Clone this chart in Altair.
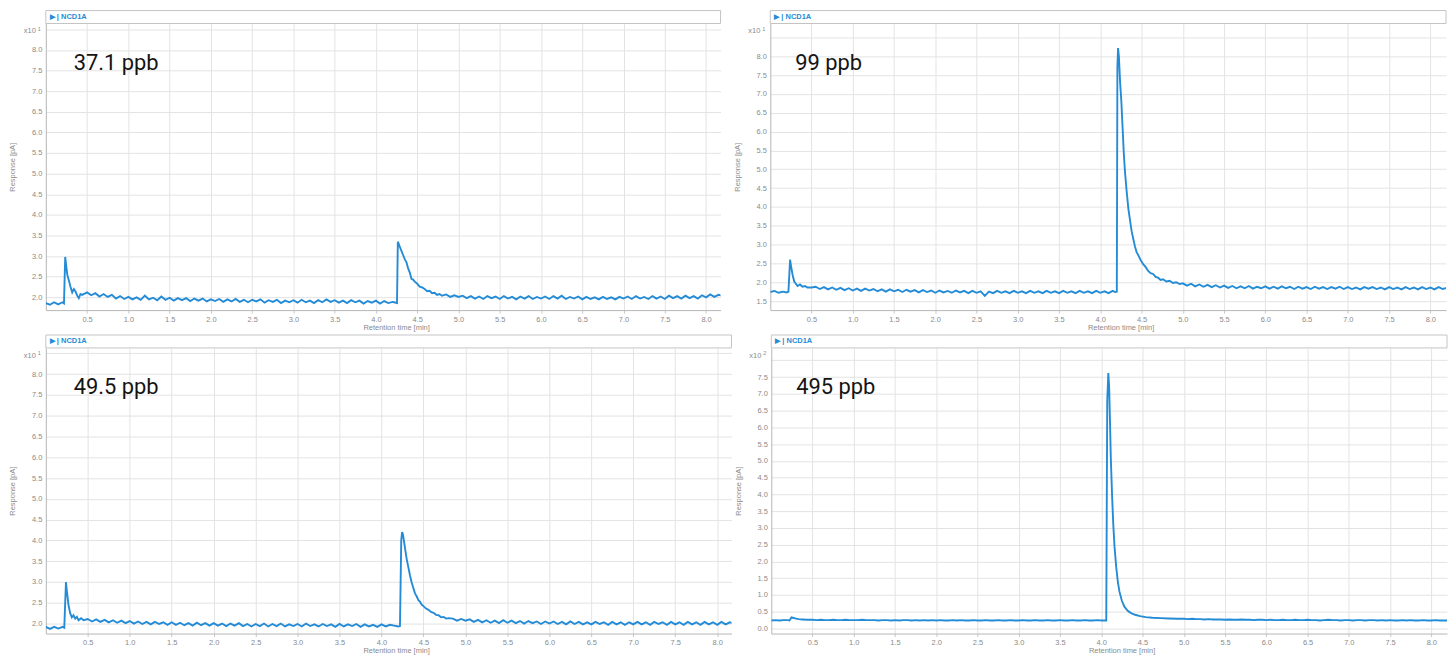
import altair as alt
import pandas as pd

BLUE = "#248bd6"
GRID_T = [round(i * 0.05, 2) for i in range(165)]
X_TICKS = [round(0.5 * i, 1) for i in range(1, 17)]
N = None

# ---- 37.1 ppb (x10^1 pA) ----
tl_grid = [
    1.86, 1.82, 1.88, 1.83, 1.88, N, N, N, N, N,
    2.12, 2.05, 2.10, 2.02, 2.08, 2.01, 2.06, 1.97, 2.03, 1.96,
    2.01, 1.95, 2.00, 1.94, 2.04, 1.95, 1.99, 1.93, 2.02, 1.94,
    1.99, 1.92, 1.98, 1.93, 1.98, 1.91, 1.97, 1.92, 1.97, 1.90,
    1.95, 1.91, 1.96, 1.89, 1.95, 1.90, 1.96, 1.89, 1.94, 1.88,
    1.94, 1.90, 1.95, 1.87, 1.93, 1.89, 1.94, 1.86, 1.92, 1.88,
    1.93, 1.87, 1.94, 1.88, 1.92, 1.86, 1.93, 1.88, 1.95, 1.89,
    1.93, 1.87, 1.92, 1.86, 1.93, 1.88, 1.92, 1.85, 1.91, 1.87,
    1.92, 1.85, 1.91, 1.86, 1.89, N, N, N, N, N,
    N, N, N, N, N, N, N, 2.07, 2.01, 2.05,
    2.01, 2.04, 1.98, 2.03, 1.97, 2.02, 1.96, 2.03, 1.98, 2.02,
    1.96, 2.03, 1.97, 2.01, 1.95, 2.02, 1.97, 2.03, 1.96, 2.01,
    1.97, 2.02, 1.96, 2.03, 1.97, 2.04, 1.96, 2.01, 1.97, 2.02,
    1.95, 2.01, 1.96, 2.00, 1.95, 2.01, 1.96, 2.00, 1.95, 2.01,
    1.97, 2.02, 1.96, 2.03, 1.97, 2.01, 1.96, 2.03, 1.97, 2.02,
    1.96, 2.04, 1.98, 2.03, 1.97, 2.04, 1.98, 2.03, 1.97, 2.05,
    2.00, 2.07, 2.01, 2.06, 2.03,
]
tl_peaks = [
    [0.22, 1.85], [0.235, 2.98], [0.245, 2.80], [0.26, 2.55], [0.28, 2.40],
    [0.30, 2.25], [0.32, 2.12], [0.34, 2.20], [0.36, 2.14], [0.38, 2.04],
    [0.40, 1.98], [0.42, 2.08], [0.44, 2.06],
    [4.22, 1.88], [4.255, 1.86], [4.265, 3.35], [4.275, 3.30], [4.29, 3.22],
    [4.31, 3.12], [4.33, 3.02], [4.35, 2.92], [4.37, 2.85], [4.39, 2.70],
    [4.41, 2.60], [4.43, 2.45], [4.45, 2.43], [4.47, 2.38], [4.50, 2.33],
    [4.53, 2.26], [4.56, 2.24], [4.59, 2.20], [4.62, 2.15], [4.65, 2.16],
    [4.68, 2.10], [4.71, 2.11], [4.74, 2.06], [4.77, 2.08], [4.80, 2.04],
]

# ---- 99 ppb (x10^1 pA) ----
tr_grid = [
    1.74, 1.77, 1.72, 1.75, 1.73, N, N, N, N, N,
    1.86, 1.88, 1.82, 1.87, 1.81, 1.86, 1.80, 1.85, 1.79, 1.84,
    1.78, 1.83, 1.77, 1.83, 1.78, 1.82, 1.76, 1.81, 1.75, 1.81,
    1.76, 1.80, 1.74, 1.80, 1.75, 1.79, 1.73, 1.79, 1.74, 1.78,
    1.72, 1.78, 1.73, 1.77, 1.72, 1.78, 1.73, 1.77, 1.71, 1.77,
    1.72, 1.76, 1.64, 1.75, 1.71, 1.77, 1.72, 1.76, 1.71, 1.77,
    1.72, 1.76, 1.71, 1.77, 1.72, 1.76, 1.71, 1.77, 1.72, 1.76,
    1.71, 1.77, 1.72, 1.76, 1.71, 1.77, 1.72, 1.76, 1.71, 1.77,
    1.72, 1.76, 1.71, 1.77, N, N, N, N, N, N,
    N, N, N, N, N, N, N, N, N, N,
    1.97, 1.91, 1.96, 1.89, 1.94, 1.88, 1.93, 1.87, 1.92, 1.86,
    1.91, 1.85, 1.90, 1.84, 1.89, 1.84, 1.90, 1.83, 1.88, 1.84,
    1.89, 1.83, 1.88, 1.83, 1.89, 1.84, 1.88, 1.82, 1.88, 1.83,
    1.87, 1.82, 1.88, 1.83, 1.87, 1.82, 1.87, 1.83, 1.88, 1.82,
    1.87, 1.82, 1.86, 1.81, 1.87, 1.83, 1.87, 1.82, 1.86, 1.81,
    1.87, 1.82, 1.86, 1.81, 1.87, 1.82, 1.86, 1.81, 1.87, 1.82,
    1.86, 1.81, 1.87, 1.82, 1.85,
]
tr_peaks = [
    [0.22, 1.75], [0.24, 2.60], [0.25, 2.45], [0.27, 2.20], [0.29, 2.02],
    [0.31, 1.96], [0.33, 1.90], [0.36, 1.94], [0.39, 1.88], [0.42, 1.90],
    [0.45, 1.86],
    [4.18, 1.74], [4.20, 1.75], [4.207, 7.70], [4.215, 8.22], [4.225, 8.00],
    [4.24, 7.30], [4.255, 6.80], [4.27, 6.10], [4.285, 5.40], [4.30, 4.90],
    [4.32, 4.40], [4.34, 3.95], [4.36, 3.65], [4.38, 3.35], [4.40, 3.15],
    [4.42, 2.95], [4.44, 2.80], [4.46, 2.72], [4.49, 2.58], [4.52, 2.48],
    [4.55, 2.40], [4.58, 2.30], [4.61, 2.24], [4.64, 2.22], [4.67, 2.14],
    [4.70, 2.12], [4.73, 2.06], [4.76, 2.08], [4.80, 2.02], [4.84, 2.04],
    [4.88, 1.98], [4.92, 2.00], [4.96, 1.95],
]

# ---- 49.5 ppb (x10^1 pA) ----
bl_grid = [
    1.92, 1.87, 1.92, 1.88, 1.92, N, N, N, N, N,
    2.11, 2.05, 2.10, 2.04, 2.09, 2.03, 2.08, 2.02, 2.07, 2.01,
    2.06, 2.00, 2.05, 1.99, 2.04, 1.98, 2.04, 1.99, 2.03, 1.97,
    2.03, 1.97, 2.02, 1.96, 2.01, 1.95, 2.02, 1.96, 2.01, 1.95,
    2.01, 1.95, 2.00, 1.94, 2.00, 1.95, 2.01, 1.94, 1.99, 1.93,
    1.99, 1.94, 2.00, 1.93, 1.99, 1.94, 2.00, 1.93, 1.98, 1.94,
    1.99, 1.93, 2.00, 1.94, 1.98, 1.93, 1.99, 1.94, 1.98, 1.92,
    1.99, 1.93, 1.98, 1.94, 1.99, 1.92, 1.98, 1.93, 1.97, 1.92,
    1.98, 1.93, 1.97, 1.95, 1.93, N, N, N, N, N,
    N, N, N, N, N, N, N, 2.12, 2.07, 2.11,
    2.07, 2.10, 2.04, 2.09, 2.03, 2.08, 2.02, 2.07, 2.01, 2.08,
    2.02, 2.07, 2.01, 2.06, 2.00, 2.06, 2.01, 2.05, 1.99, 2.05,
    2.00, 2.05, 1.99, 2.04, 1.98, 2.05, 1.99, 2.04, 1.98, 2.03,
    1.98, 2.04, 1.99, 2.03, 1.97, 2.04, 1.98, 2.03, 1.97, 2.03,
    1.98, 2.04, 1.98, 2.03, 1.97, 2.04, 1.99, 2.03, 1.97, 2.04,
    1.98, 2.03, 1.97, 2.04, 1.98, 2.03, 1.97, 2.04, 1.98, 2.03,
    1.97, 2.04, 1.98, 2.03, 2.00,
]
bl_peaks = [
    [0.22, 1.90], [0.24, 3.00], [0.25, 2.80], [0.27, 2.45], [0.29, 2.25],
    [0.31, 2.15], [0.33, 2.20], [0.35, 2.12], [0.37, 2.16], [0.39, 2.08],
    [0.42, 2.13], [0.45, 2.08],
    [4.22, 1.94], [4.235, 4.00], [4.245, 4.20], [4.255, 4.15], [4.27, 3.95],
    [4.285, 3.75], [4.30, 3.55], [4.32, 3.35], [4.34, 3.15], [4.36, 2.98],
    [4.38, 2.85], [4.40, 2.72], [4.42, 2.65], [4.44, 2.56], [4.46, 2.52],
    [4.48, 2.45], [4.50, 2.42], [4.53, 2.36], [4.56, 2.33], [4.59, 2.28],
    [4.62, 2.26], [4.65, 2.21], [4.68, 2.20], [4.71, 2.15], [4.74, 2.16],
    [4.77, 2.12], [4.80, 2.13],
]

# ---- 495 ppb (x10^2 pA) ----
br_grid = [
    0.24, 0.25, 0.24, 0.25, 0.25, N, N, N, N, N,
    0.26, 0.25, 0.26, 0.25, 0.25, 0.26, 0.25, 0.25, 0.26, 0.25,
    0.25, 0.25, 0.26, 0.25, 0.25, 0.25, 0.24, 0.25, 0.25, 0.24,
    0.25, 0.24, 0.25, 0.25, 0.24, 0.25, 0.24, 0.25, 0.24, 0.25,
    0.24, 0.25, 0.24, 0.24, 0.25, 0.24, 0.25, 0.24, 0.24, 0.25,
    0.24, 0.24, 0.25, 0.24, 0.24, 0.25, 0.24, 0.24, 0.25, 0.24,
    0.24, 0.25, 0.24, 0.24, 0.25, 0.24, 0.24, 0.25, 0.24, 0.24,
    0.25, 0.24, 0.24, 0.25, 0.24, 0.24, 0.25, 0.24, 0.24, 0.25,
    0.24, 0.24, N, N, N, N, N, N, N, N,
    N, N, N, N, N, N, N, N, N, N,
    0.29, 0.28, 0.29, 0.28, 0.28, 0.27, 0.28, 0.27, 0.27, 0.27,
    0.26, 0.27, 0.26, 0.26, 0.27, 0.26, 0.26, 0.25, 0.26, 0.26,
    0.25, 0.26, 0.25, 0.25, 0.26, 0.25, 0.25, 0.26, 0.25, 0.25,
    0.26, 0.25, 0.25, 0.24, 0.25, 0.26, 0.25, 0.25, 0.24, 0.25,
    0.25, 0.24, 0.25, 0.25, 0.24, 0.25, 0.25, 0.24, 0.25, 0.24,
    0.25, 0.24, 0.24, 0.25, 0.24, 0.25, 0.24, 0.24, 0.25, 0.24,
    0.24, 0.25, 0.24, 0.24, 0.24,
]
br_peaks = [
    [0.22, 0.24], [0.245, 0.33], [0.26, 0.32], [0.29, 0.30], [0.33, 0.28],
    [0.38, 0.27], [0.43, 0.26],
    [4.06, 0.24], [4.072, 6.80], [4.085, 7.62], [4.095, 7.20], [4.105, 6.20],
    [4.115, 5.10], [4.13, 4.00], [4.145, 3.10], [4.16, 2.45], [4.18, 1.85],
    [4.20, 1.40], [4.22, 1.10], [4.25, 0.82], [4.28, 0.65], [4.32, 0.53],
    [4.36, 0.46], [4.41, 0.41], [4.47, 0.37], [4.54, 0.34], [4.62, 0.32],
    [4.72, 0.31], [4.82, 0.30], [4.92, 0.29],
]

LABELS = ["37.1 ppb", "99 ppb", "49.5 ppb", "495 ppb"]
EXPONENTS = ["1", "1", "1", "2"]
HEADER = "\u25B6 | NCD1A"

AX_FONT = "Liberation Sans"
LABEL_COLOR = "#8a8a8a"
GRID_COLOR = "#e3e3e3"
DOMAIN_COLOR = "#b5b5b5"


def series(grid, peaks):
    rows = [(t, r) for t, r in zip(GRID_T, grid) if r is not None]
    rows += [tuple(p) for p in peaks]
    rows.sort()
    return pd.DataFrame(rows, columns=["t", "r"])


def one(text):
    return pd.DataFrame({"s": [text]})


def panel(df, label, exp, ydom, yticks, hide_from, xmax, W, H, ann_x, ann_y):
    line = alt.Chart(df).mark_line(color=BLUE, strokeWidth=1.9, clip=True).encode(
        x=alt.X("t:Q",
                scale=alt.Scale(domain=[0, xmax], nice=False, zero=False),
                axis=alt.Axis(values=X_TICKS, format=".1f", title="Retention time [min]",
                              titleX=352, titleAnchor="middle", titlePadding=1,
                              labelPadding=2, tickSize=3)),
        y=alt.Y("r:Q",
                scale=alt.Scale(domain=ydom, nice=False, zero=False),
                axis=alt.Axis(values=yticks, title="Response [pA]",
                              labelExpr=f"datum.value >= {hide_from} ? '' : format(datum.value, '.1f')",
                              tickSize=0, labelPadding=4, titlePadding=15)),
    )
    head_box = alt.Chart(one("h")).mark_rect(fill="#ffffff", stroke="#c4c4c4", strokeWidth=1).encode(
        x=alt.value(0), x2=alt.value(W), y=alt.value(-13), y2=alt.value(0))
    head_txt = alt.Chart(one(HEADER)).mark_text(
        align="left", baseline="middle", font=AX_FONT, fontSize=7.5, fontWeight="bold", color=BLUE
    ).encode(x=alt.value(4), y=alt.value(-6.5), text="s:N")
    ann = alt.Chart(one(label)).mark_text(
        align="left", baseline="alphabetic", font="Roboto", fontSize=22, color="#141414"
    ).encode(x=alt.value(ann_x), y=alt.value(ann_y), text="s:N")
    x10 = alt.Chart(one("x10")).mark_text(
        align="right", baseline="middle", font=AX_FONT, fontSize=7.5, color=LABEL_COLOR
    ).encode(x=alt.value(-10), y=alt.value(8), text="s:N")
    sup = alt.Chart(one(exp)).mark_text(
        align="left", baseline="middle", font=AX_FONT, fontSize=5.5, color=LABEL_COLOR
    ).encode(x=alt.value(-8), y=alt.value(5.5), text="s:N")
    return alt.layer(line, head_box, head_txt, ann, x10, sup).properties(width=W, height=H)


def ticks(lo, hi):
    out = []
    v = lo
    while v <= hi + 1e-9:
        out.append(round(v, 1))
        v += 0.5
    return out


tl = panel(series(tl_grid, tl_peaks), LABELS[0], EXPONENTS[0], [1.69, 8.64], ticks(2.0, 8.5), 8.4,
           8.175, 678, 288, 28, 47)
tr = panel(series(tr_grid, tr_peaks), LABELS[1], EXPONENTS[1], [1.26, 8.87], ticks(1.5, 8.5), 8.4,
           8.19, 679, 288, 25, 47)
bl = panel(series(bl_grid, bl_peaks), LABELS[2], EXPONENTS[2], [1.76, 8.63], ticks(2.0, 8.5), 8.4,
           8.17, 689, 287, 28, 46)
br = panel(series(br_grid, br_peaks), LABELS[3], EXPONENTS[3], [-0.15, 8.37], ticks(0.0, 8.0), 7.9,
           8.19, 679, 287, 25, 46)

chart = alt.vconcat(
    alt.hconcat(tl, tr, spacing=11),
    alt.hconcat(bl, br, spacing=1),
    spacing=3,
).properties(
    padding={"left": 0, "top": 0, "right": 0, "bottom": 0}
).configure_view(stroke=None).configure_axis(
    labelFont=AX_FONT, titleFont=AX_FONT, labelFontSize=7.5, titleFontSize=7.5,
    labelColor=LABEL_COLOR, titleColor=LABEL_COLOR, titleFontWeight="normal",
    gridColor=GRID_COLOR, gridWidth=1, domainColor=DOMAIN_COLOR, tickColor="#c8c8c8",
    grid=True,
)

chart.save("out.html", embed_options={"renderer": "svg", "actions": False})
